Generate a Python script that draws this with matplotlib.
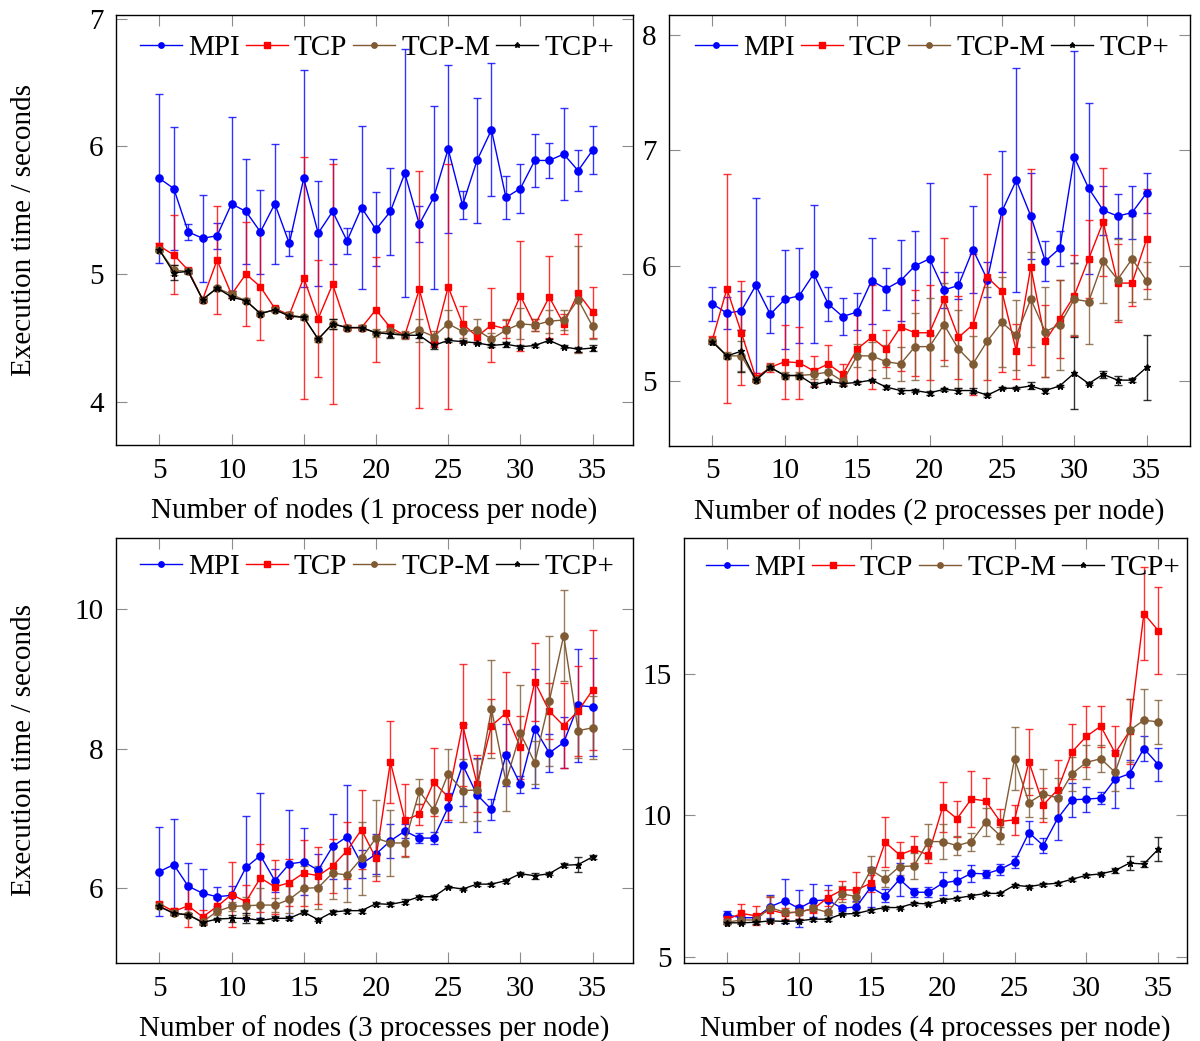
import matplotlib
matplotlib.use("Agg")
import matplotlib.pyplot as plt
from matplotlib.lines import Line2D

nodes = list(range(5, 36))

# panel 1: 1 process per node
p1_mpi = [5.75, 5.67, 5.33, 5.28, 5.30, 5.55, 5.49, 5.33, 5.55, 5.24, 5.75, 5.32, 5.49, 5.26, 5.52, 5.35,
          5.49, 5.79, 5.39, 5.60, 5.98, 5.54, 5.89, 6.13, 5.60, 5.67, 5.89, 5.89, 5.94, 5.81, 5.97]
p1_mpi_err = [0.66, 0.48, 0.06, 0.34, 0.10, 0.68, 0.41, 0.33, 0.47, 0.10, 0.85, 0.41, 0.41, 0.10, 0.64, 0.29,
              0.34, 0.97, 0.14, 0.72, 0.66, 0.11, 0.49, 0.52, 0.17, 0.19, 0.21, 0.14, 0.36, 0.16, 0.19]
p1_tcp = [5.22, 5.15, 5.03, 4.80, 5.11, 4.84, 5.00, 4.90, 4.73, 4.68, 4.97, 4.65, 4.92, 4.58, 4.58, 4.72,
          4.58, 4.52, 4.88, 4.46, 4.90, 4.61, 4.51, 4.60, 4.57, 4.83, 4.60, 4.82, 4.61, 4.85, 4.70]
p1_tcp_err = [0.02, 0.31, 0.02, 0.02, 0.42, 0.03, 0.41, 0.42, 0.01, 0.02, 0.95, 0.46, 0.94, 0.02, 0.02, 0.41,
              0.03, 0.02, 0.93, 0.03, 0.96, 0.14, 0.05, 0.29, 0.07, 0.43, 0.05, 0.32, 0.08, 0.46, 0.20]
p1_tcpm = [5.19, 5.03, 5.02, 4.80, 4.89, 4.84, 4.79, 4.69, 4.72, 4.68, 4.66, 4.49, 4.61, 4.58, 4.58, 4.54,
           4.55, 4.52, 4.56, 4.51, 4.61, 4.55, 4.56, 4.49, 4.56, 4.61, 4.60, 4.63, 4.64, 4.80, 4.59]
p1_tcpm_err = [0.02, 0.04, 0.02, 0.02, 0.02, 0.03, 0.02, 0.02, 0.02, 0.02, 0.02, 0.02, 0.04, 0.02, 0.02, 0.03,
               0.04, 0.03, 0.09, 0.04, 0.11, 0.05, 0.09, 0.05, 0.09, 0.12, 0.05, 0.09, 0.08, 0.42, 0.10]
p1_tcpp = [5.19, 5.01, 5.02, 4.80, 4.89, 4.82, 4.79, 4.69, 4.72, 4.67, 4.66, 4.49, 4.61, 4.58, 4.58, 4.54,
           4.53, 4.52, 4.52, 4.44, 4.48, 4.47, 4.46, 4.44, 4.45, 4.43, 4.44, 4.48, 4.43, 4.41, 4.42]
p1_tcpp_err = [0.01, 0.06, 0.01, 0.01, 0.01, 0.01, 0.01, 0.01, 0.01, 0.01, 0.01, 0.01, 0.04, 0.01, 0.01, 0.01,
               0.03, 0.01, 0.02, 0.03, 0.01, 0.01, 0.01, 0.01, 0.02, 0.01, 0.01, 0.01, 0.01, 0.02, 0.02]

# panel 2: 2 processes per node
p2_mpi = [5.67, 5.59, 5.61, 5.83, 5.58, 5.71, 5.74, 5.93, 5.67, 5.56, 5.60, 5.87, 5.80, 5.87, 6.00, 6.06,
          5.79, 5.83, 6.14, 5.88, 6.47, 6.74, 6.43, 6.04, 6.15, 6.94, 6.67, 6.48, 6.43, 6.46, 6.63]
p2_mpi_err = [0.15, 0.14, 0.17, 0.76, 0.16, 0.43, 0.41, 0.60, 0.15, 0.16, 0.16, 0.37, 0.18, 0.35, 0.30, 0.66,
              0.16, 0.12, 0.38, 0.15, 0.52, 0.97, 0.37, 0.17, 0.15, 0.92, 0.74, 0.21, 0.19, 0.23, 0.17]
p2_tcp = [5.36, 5.80, 5.42, 5.03, 5.12, 5.17, 5.16, 5.09, 5.15, 5.06, 5.28, 5.38, 5.28, 5.47, 5.42, 5.42,
          5.71, 5.38, 5.49, 5.90, 5.78, 5.26, 5.99, 5.35, 5.54, 5.74, 6.06, 6.38, 5.85, 5.85, 6.23]
p2_tcp_err = [0.03, 0.99, 0.45, 0.04, 0.04, 0.32, 0.31, 0.13, 0.16, 0.09, 0.29, 0.45, 0.16, 0.38, 0.37, 0.41,
              0.53, 0.36, 0.61, 0.89, 0.70, 0.24, 0.85, 0.31, 0.34, 0.35, 0.34, 0.47, 0.34, 0.20, 0.43]
p2_tcpm = [5.35, 5.22, 5.22, 5.01, 5.12, 5.05, 5.05, 5.06, 5.08, 5.00, 5.22, 5.22, 5.17, 5.15, 5.30, 5.30,
           5.49, 5.28, 5.15, 5.35, 5.51, 5.40, 5.71, 5.43, 5.49, 5.71, 5.69, 6.04, 5.88, 6.06, 5.87]
p2_tcpm_err = [0.02, 0.03, 0.13, 0.02, 0.02, 0.03, 0.03, 0.04, 0.06, 0.03, 0.10, 0.12, 0.14, 0.15, 0.29, 0.42,
               0.36, 0.34, 0.24, 0.47, 0.39, 0.30, 0.41, 0.39, 0.39, 0.31, 0.37, 0.36, 0.35, 0.37, 0.16]
p2_tcpp = [5.34, 5.22, 5.26, 5.01, 5.12, 5.05, 5.05, 4.97, 5.00, 4.98, 4.99, 5.01, 4.95, 4.92, 4.92, 4.90,
           4.93, 4.92, 4.92, 4.88, 4.94, 4.94, 4.96, 4.92, 4.96, 5.07, 4.98, 5.06, 5.01, 5.01, 5.12]
p2_tcpp_err = [0.02, 0.02, 0.18, 0.01, 0.01, 0.01, 0.01, 0.02, 0.01, 0.02, 0.01, 0.01, 0.02, 0.02, 0.01, 0.02,
               0.01, 0.02, 0.02, 0.02, 0.01, 0.01, 0.03, 0.02, 0.01, 0.31, 0.01, 0.03, 0.04, 0.02, 0.28]

# panel 3: 3 processes per node
p3_mpi = [6.24, 6.34, 6.03, 5.93, 5.88, 5.90, 6.30, 6.47, 6.11, 6.35, 6.38, 6.26, 6.60, 6.74, 6.35, 6.49,
          6.68, 6.82, 6.72, 6.72, 7.16, 7.77, 7.34, 7.13, 7.91, 7.49, 8.29, 7.94, 8.09, 8.62, 8.60]
p3_mpi_err = [0.64, 0.65, 0.33, 0.34, 0.14, 0.13, 0.74, 0.90, 0.16, 0.77, 0.48, 0.23, 0.46, 0.74, 0.20, 0.29,
              0.24, 0.10, 0.07, 0.08, 0.21, 0.59, 0.53, 0.15, 0.45, 0.12, 0.85, 0.27, 0.36, 0.81, 0.70]
p3_tcp = [5.78, 5.67, 5.75, 5.59, 5.74, 5.91, 5.81, 6.15, 6.02, 6.08, 6.22, 6.18, 6.32, 6.54, 6.84, 6.43,
          7.81, 6.98, 7.06, 7.52, 7.31, 8.34, 7.50, 8.33, 8.51, 8.02, 8.96, 8.54, 8.33, 8.54, 8.84]
p3_tcp_err = [0.03, 0.05, 0.31, 0.10, 0.10, 0.47, 0.24, 0.49, 0.39, 0.34, 0.47, 0.41, 0.38, 0.41, 0.57, 0.32,
              0.59, 0.52, 0.15, 0.49, 0.33, 0.87, 0.41, 0.39, 0.59, 0.45, 0.56, 0.40, 0.61, 0.64, 0.86]
p3_tcpm = [5.74, 5.65, 5.62, 5.52, 5.67, 5.74, 5.75, 5.76, 5.76, 5.84, 6.00, 6.01, 6.22, 6.19, 6.43, 6.72,
           6.65, 6.65, 7.39, 7.12, 7.64, 7.40, 7.41, 8.57, 7.53, 8.22, 7.80, 8.68, 9.62, 8.26, 8.30]
p3_tcpm_err = [0.02, 0.03, 0.03, 0.03, 0.05, 0.06, 0.13, 0.25, 0.10, 0.20, 0.32, 0.31, 0.37, 0.39, 0.52, 0.54,
               0.47, 0.20, 0.18, 0.43, 0.35, 0.45, 0.45, 0.70, 0.42, 0.69, 0.31, 0.93, 0.65, 0.39, 0.45]
p3_tcpp = [5.74, 5.64, 5.62, 5.51, 5.56, 5.57, 5.57, 5.54, 5.57, 5.57, 5.66, 5.55, 5.66, 5.68, 5.68, 5.78,
           5.77, 5.81, 5.88, 5.88, 6.02, 5.99, 6.06, 6.06, 6.11, 6.21, 6.18, 6.21, 6.33, 6.34, 6.45]
p3_tcpp_err = [0.02, 0.02, 0.02, 0.03, 0.02, 0.05, 0.07, 0.03, 0.03, 0.03, 0.03, 0.02, 0.03, 0.03, 0.03, 0.03,
               0.03, 0.04, 0.03, 0.03, 0.02, 0.02, 0.03, 0.02, 0.03, 0.02, 0.04, 0.02, 0.03, 0.11, 0.03]

# panel 4: 4 processes per node
p4_mpi = [6.48, 6.38, 6.38, 6.77, 6.98, 6.71, 6.98, 7.01, 6.71, 6.77, 7.46, 7.16, 7.74, 7.28, 7.28, 7.60,
          7.69, 7.95, 7.93, 8.09, 8.35, 9.39, 8.93, 9.89, 10.55, 10.57, 10.61, 11.28, 11.47, 12.36, 11.79]
p4_mpi_err = [0.15, 0.10, 0.10, 0.40, 0.77, 0.65, 0.58, 0.53, 0.10, 0.20, 0.70, 0.24, 0.59, 0.15, 0.18, 0.41,
              0.38, 0.31, 0.15, 0.20, 0.20, 0.41, 0.28, 0.78, 0.60, 0.44, 0.20, 1.03, 0.50, 0.43, 0.58]
p4_tcp = [6.32, 6.53, 6.45, 6.65, 6.53, 6.59, 6.69, 7.09, 7.36, 7.36, 7.60, 9.05, 8.60, 8.80, 8.60, 10.29,
          9.88, 10.58, 10.51, 9.78, 9.84, 11.89, 10.37, 10.90, 12.24, 12.79, 13.15, 12.20, 12.97, 17.13, 16.53]
p4_tcp_err = [0.10, 0.32, 0.33, 0.45, 0.20, 0.24, 0.15, 0.28, 0.33, 0.63, 0.30, 0.89, 0.44, 0.47, 0.30, 0.89,
              0.63, 1.00, 0.80, 0.44, 0.52, 1.17, 0.59, 1.06, 0.97, 1.09, 0.72, 0.94, 1.15, 1.64, 1.53]
p4_tcpm = [6.22, 6.30, 6.30, 6.74, 6.57, 6.57, 6.71, 6.57, 7.22, 7.13, 8.07, 7.75, 8.19, 8.21, 9.07, 9.07,
           8.93, 9.07, 9.76, 9.28, 12.00, 10.45, 10.76, 10.61, 11.47, 11.87, 12.00, 11.52, 13.00, 13.36, 13.30]
p4_tcpm_err = [0.05, 0.05, 0.05, 0.41, 0.10, 0.10, 0.10, 0.10, 0.29, 0.20, 0.50, 0.30, 0.30, 0.46, 0.62, 0.63,
               0.35, 0.32, 0.49, 0.31, 1.12, 0.51, 0.87, 0.70, 0.60, 0.60, 0.47, 0.65, 1.10, 1.10, 0.77]
p4_tcpp = [6.20, 6.20, 6.22, 6.27, 6.25, 6.27, 6.33, 6.33, 6.51, 6.53, 6.65, 6.74, 6.74, 6.89, 6.87, 7.01,
           7.07, 7.16, 7.24, 7.24, 7.53, 7.48, 7.56, 7.60, 7.74, 7.88, 7.93, 8.05, 8.31, 8.28, 8.80]
p4_tcpp_err = [0.05, 0.05, 0.05, 0.05, 0.05, 0.05, 0.05, 0.05, 0.05, 0.05, 0.05, 0.05, 0.05, 0.05, 0.05, 0.05,
               0.05, 0.05, 0.05, 0.05, 0.05, 0.05, 0.05, 0.05, 0.05, 0.05, 0.05, 0.08, 0.26, 0.10, 0.43]

labels = ["MPI", "TCP", "TCP-M", "TCP+"]
colors = ["#0000ff", "#ff0000", "#7f5a33", "#000000"]
markers = ["o", "s", "o", "*"]
msizes = [5.2, 5.0, 5.2, 5.0]

plt.rcParams["font.family"] = ["Liberation Serif", "DejaVu Serif"]
FS = 21

W, H = 1200, 1041
fig = plt.figure(figsize=(W / 100, H / 100), dpi=100)


def box(l, t, r, b):
    return [l / W, 1 - b / H, (r - l) / W, (b - t) / H]


def panel(rect, xlim, ylim, yticks, series, xlabel, ylabel, legend_at):
    ax = fig.add_axes(box(*rect))
    for (vals, errs), c, m, ms in zip(series, colors, markers, msizes):
        _, caps, bars = ax.errorbar(nodes, vals, yerr=errs, color=c, lw=1.0, marker=m, ms=ms,
                                    mfc=c, mec=c, ecolor=c, elinewidth=1.0, capsize=2.8, capthick=1.0)
        for a in list(caps) + list(bars):
            a.set_alpha(0.8)
    ax.set_xlim(*xlim)
    ax.set_ylim(*ylim)
    ax.set_xticks([5, 10, 15, 20, 25, 30, 35])
    ax.set_yticks(yticks)
    ax.tick_params(direction="in", length=8, width=0.8, color="#8c8c8c", top=True, right=True,
                   pad=9, labelsize=FS)
    for s in ax.spines.values():
        s.set_linewidth(1.0)
    ax.set_xlabel(xlabel, fontsize=FS, labelpad=10)
    if ylabel:
        ax.set_ylabel(ylabel, fontsize=FS)
        # anchor is the label's baseline side; puts its centre ~22 px from the left edge
        ax.yaxis.set_label_coords((37 - rect[0]) / (rect[2] - rect[0]), 0.5)
    handles = [Line2D([0], [0], color=c, lw=1.0, marker=m, ms=ms * 0.75, mfc=c, mec=c)
               for c, m, ms in zip(colors, markers, msizes)]
    ax.legend(handles, labels, loc="center", ncol=4, frameon=False, fontsize=FS,
              bbox_to_anchor=(legend_at[0] / W, 1 - legend_at[1] / H), bbox_transform=fig.transFigure,
              handlelength=1.45, handletextpad=0.2, columnspacing=0.2, borderpad=0)
    return ax


panel((116, 15, 633, 445), (2.0, 37.8), (3.66, 7.03), [4, 5, 6, 7],
      [(p1_mpi, p1_mpi_err), (p1_tcp, p1_tcp_err), (p1_tcpm, p1_tcpm_err), (p1_tcpp, p1_tcpp_err)],
      "Number of nodes (1 process per node)", "Execution time / seconds", (377, 48))
panel((669, 15, 1190, 446), (2.0, 38.0), (4.44, 8.17), [5, 6, 7, 8],
      [(p2_mpi, p2_mpi_err), (p2_tcp, p2_tcp_err), (p2_tcpm, p2_tcpm_err), (p2_tcpp, p2_tcpp_err)],
      "Number of nodes (2 processes per node)", None, (932, 48))
panel((116, 538, 633, 963), (2.0, 37.8), (4.93, 11.02), [6, 8, 10],
      [(p3_mpi, p3_mpi_err), (p3_tcp, p3_tcp_err), (p3_tcpm, p3_tcpm_err), (p3_tcpp, p3_tcpp_err)],
      "Number of nodes (3 processes per node)", "Execution time / seconds", (377, 567))
panel((684, 538, 1187, 963), (2.0, 37.0), (4.78, 19.8), [5, 10, 15],
      [(p4_mpi, p4_mpi_err), (p4_tcp, p4_tcp_err), (p4_tcpm, p4_tcpm_err), (p4_tcpp, p4_tcpp_err)],
      "Number of nodes (4 processes per node)", None, (943, 568))

fig.savefig("out.png", dpi=100)
